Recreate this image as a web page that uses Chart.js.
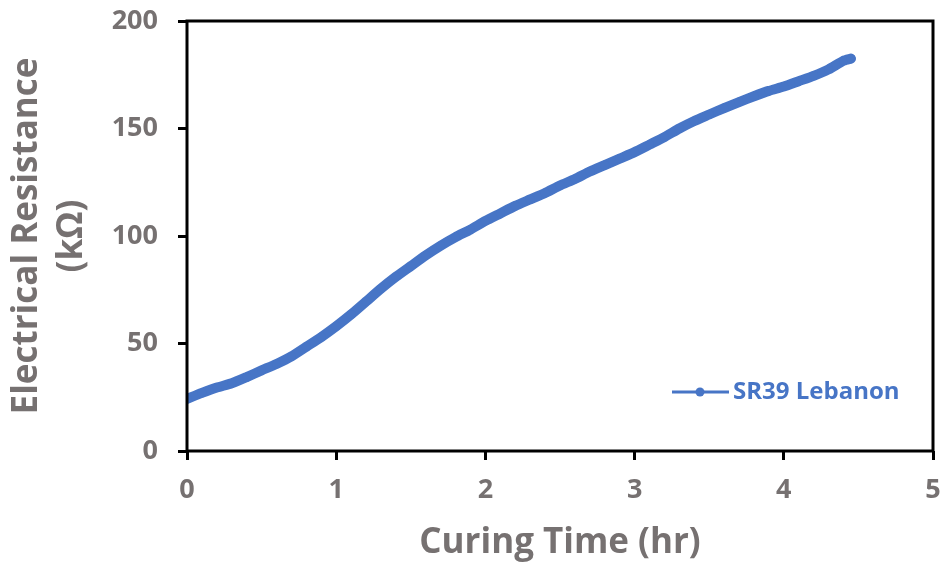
<!DOCTYPE html>
<html>
<head>
<meta charset="utf-8">
<script src="https://cdn.jsdelivr.net/npm/chart.js@4/dist/chart.umd.min.js"></script>
<style>
    html, body { margin: 0; padding: 0; background: #fff; overflow: hidden; }
</style>
</head>
<body>
<canvas id="myChart" width="946" height="568"></canvas>
<script>
// Curing time (hr) and resistance (kOhm)
const hours = [0, 0.1, 0.2, 0.3, 0.4, 0.5, 0.6, 0.7, 0.8, 0.9,
    1.0, 1.1, 1.2, 1.3, 1.4, 1.5, 1.6, 1.7, 1.8, 1.9,
    2.0, 2.1, 2.2, 2.3, 2.4, 2.5, 2.6, 2.7, 2.8, 2.9,
    3.0, 3.1, 3.2, 3.3, 3.4, 3.5, 3.6, 3.7, 3.8, 3.9,
    4.0, 4.1, 4.2, 4.3, 4.4, 4.45];
const resistance = [24.2, 27, 29.5, 31.5, 34.4, 37.5, 40.5, 44, 48.5, 53,
    58, 63.5, 69.5, 75.5, 81, 86, 91, 95.5, 99.5, 103,
    107, 110.5, 114, 117, 120, 123.5, 126.5, 130, 133, 136,
    139, 142.5, 146, 150, 153.5, 156.5, 159.5, 162.3, 165, 167.5,
    169.5, 172, 174.5, 177.5, 181.5, 182.5];
const xTicks = [0, 1, 2, 3, 4, 5];
const yTicks = [0, 50, 100, 150, 200];
const seriesName = "SR39 Lebanon";

const blue = "#4775C6";
const grey = "#767171";
const fontName = "'Open Sans', 'Liberation Sans', sans-serif";

// Frame round the plot area + the legend inside it
const framePlugin = {
    id: 'frame',
    afterDatasetsDraw(chart) {
        const ctx = chart.ctx;
        const a = chart.chartArea;
        ctx.save();
        ctx.strokeStyle = "#000";
        ctx.lineWidth = 3;
        ctx.strokeRect(a.left, a.top, a.right - a.left, a.bottom - a.top);

        // legend
        const ly = a.bottom - 59;
        const lx = a.right - 261;
        ctx.strokeStyle = blue;
        ctx.lineWidth = 3;
        ctx.beginPath();
        ctx.moveTo(lx, ly);
        ctx.lineTo(lx + 57, ly);
        ctx.stroke();
        ctx.fillStyle = blue;
        ctx.beginPath();
        ctx.arc(lx + 28, ly, 4.5, 0, Math.PI * 2);
        ctx.fill();
        ctx.font = "bold 24px " + fontName;
        ctx.textBaseline = "middle";
        ctx.fillText(seriesName, lx + 61, ly);
        ctx.restore();
    }
};

const points = hours.map((h, i) => ({ x: h, y: resistance[i] }));

const ctx = document.getElementById("myChart").getContext("2d");
const myChart = new Chart(ctx, {
    type: "line",
    data: {
        datasets: [
            {
                label: seriesName,
                data: points,
                borderColor: blue,
                backgroundColor: blue,
                borderWidth: 10,
                pointRadius: 4.5,
                pointBorderWidth: 0,
                borderCapStyle: "round",
                borderJoinStyle: "round",
                fill: false,
                tension: 0.2,
            },
        ],
    },
    options: {
        responsive: false,
        animation: false,
        devicePixelRatio: 1,
        layout: { padding: { top: 21, right: 13, left: 0, bottom: 0 } },
        plugins: {
            legend: { display: false },
            tooltip: { enabled: false },
        },
        scales: {
            x: {
                type: "linear",
                min: 0,
                max: 5,
                afterBuildTicks: (scale) => { scale.ticks = xTicks.map(v => ({ value: v })); },
                afterFit: (scale) => {
                    scale.height = 117;
                    scale.paddingLeft = 0;
                    scale.paddingRight = 0;
                },
                border: { display: false },
                grid: {
                    drawOnChartArea: false,
                    drawTicks: true,
                    tickLength: 9,
                    tickWidth: 3,
                    tickColor: "#000",
                },
                ticks: {
                    color: grey,
                    font: { family: fontName, size: 27, weight: "bold" },
                    padding: 14,
                    maxRotation: 0,
                },
                title: {
                    display: true,
                    text: "Curing Time (hr)",
                    color: grey,
                    font: { family: fontName, size: 35, weight: "bold" },
                    padding: { top: 2 },
                },
            },
            y: {
                min: 0,
                max: 200,
                afterBuildTicks: (scale) => { scale.ticks = yTicks.map(v => ({ value: v })); },
                afterFit: (scale) => {
                    scale.width = 187;
                    scale.paddingTop = 0;
                    scale.paddingBottom = 0;
                },
                border: { display: false },
                grid: {
                    drawOnChartArea: false,
                    drawTicks: true,
                    tickLength: 9,
                    tickWidth: 3,
                    tickColor: "#000",
                },
                ticks: {
                    color: grey,
                    font: { family: fontName, size: 27, weight: "bold" },
                    padding: 20,
                },
                title: {
                    display: true,
                    text: ["Electrical Resistance", "(kΩ)"],
                    color: grey,
                    font: { family: fontName, size: 35, weight: "bold", lineHeight: 1.3 },
                    padding: { top: 4, bottom: 0 },
                },
            },
        },
    },
    plugins: [framePlugin],
});
</script>
</body>
</html>
